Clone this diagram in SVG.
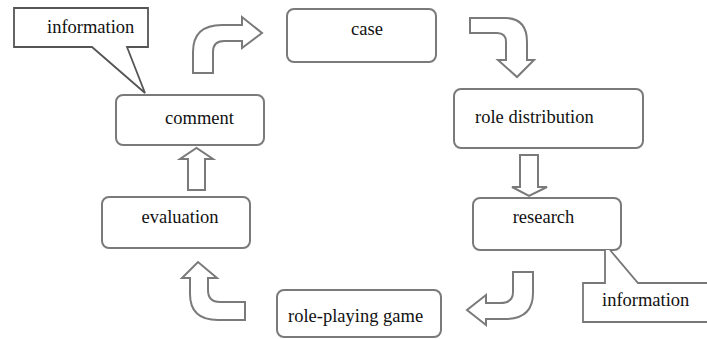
<svg xmlns="http://www.w3.org/2000/svg" width="707" height="339" viewBox="0 0 707 339">
<style>
.box{fill:#fff;stroke:#7a7a7a;stroke-width:2}
.arrow{fill:#fff;stroke:#7a7a7a;stroke-width:2;stroke-linejoin:miter}
.call{fill:#fff;stroke:#555;stroke-width:1.8}
text{font-family:'Liberation Serif','Times New Roman','DejaVu Serif',serif;font-size:18.5px;fill:#111}
.c{text-anchor:middle}
</style>
<rect width="707" height="339" fill="#fff"/>
<g id="connectors">
<path class="arrow" d="M193,73 L193,52 Q193,25 222,25 L242,25 L242,17 L262,33 L242,48 L242,41 L224,41 Q213,41 213,52 L213,73 Z"/>
<path class="arrow" d="M470,18 L505,18 Q527,18 527,42 L527,60 L534,60 L517,77 L498,60 L506,60 L506,42 Q506,33 497,33 L470,33 Z"/>
<path class="arrow" d="M520,155 L538,155 L538,187 L547,187 L529,196 L512,187 L520,187 Z"/>
<path class="arrow" d="M513,272 L533,272 L533,293 Q533,319 505,319 L486,319 L486,325 L467,310 L486,295 L486,303 L500,303 Q513,303 513,292 Z"/>
<path class="arrow" d="M245,302 L245,320 L218,320 Q190,320 190,294 L190,278 L182,278 L198,262 L217,278 L208,278 L208,290 Q208,302 220,302 Z"/>
<path class="arrow" d="M188,190 L188,159 L180,159 L196.5,148 L213,159 L205,159 L205,190 Z"/>
</g>
<g id="node-case">
<rect class="box" x="287" y="9" width="149" height="53" rx="7"/>
<text class="c" x="367" y="35" font-family="Liberation Serif, serif">case</text>
</g>
<g id="node-role-distribution">
<rect class="box" x="454" y="89" width="189" height="59" rx="7"/>
<text x="475" y="123" font-family="Liberation Serif, serif">role distribution</text>
</g>
<g id="node-research">
<rect class="box" x="473" y="198" width="148" height="52" rx="7"/>
<text class="c" x="543.5" y="223" font-family="Liberation Serif, serif">research</text>
</g>
<g id="node-role-playing-game">
<rect class="box" x="277" y="290" width="164" height="47" rx="7"/>
<text x="288" y="322" font-family="Liberation Serif, serif">role-playing game</text>
</g>
<g id="node-evaluation">
<rect class="box" x="102" y="197" width="148" height="51" rx="7"/>
<text class="c" x="180" y="223" font-family="Liberation Serif, serif">evaluation</text>
</g>
<g id="node-comment">
<rect class="box" x="116" y="95" width="148" height="50" rx="7"/>
<text class="c" x="199.5" y="124" font-family="Liberation Serif, serif">comment</text>
</g>
<g id="node-information-top">
<path class="call" d="M14,8 L148,8 L148,47 L127,47 L145,93 L92,47 L14,47 Z"/>
<text x="47" y="33" font-family="Liberation Serif, serif">information</text>
</g>
<g id="node-information-bottom">
<path class="call" style="stroke:#777" d="M605,250 L605,283 L583,283 L583,322 L710,322 L710,283 L638,283 L610,250"/>
<text x="602" y="306" font-family="Liberation Serif, serif">information</text>
</g>
</svg>
